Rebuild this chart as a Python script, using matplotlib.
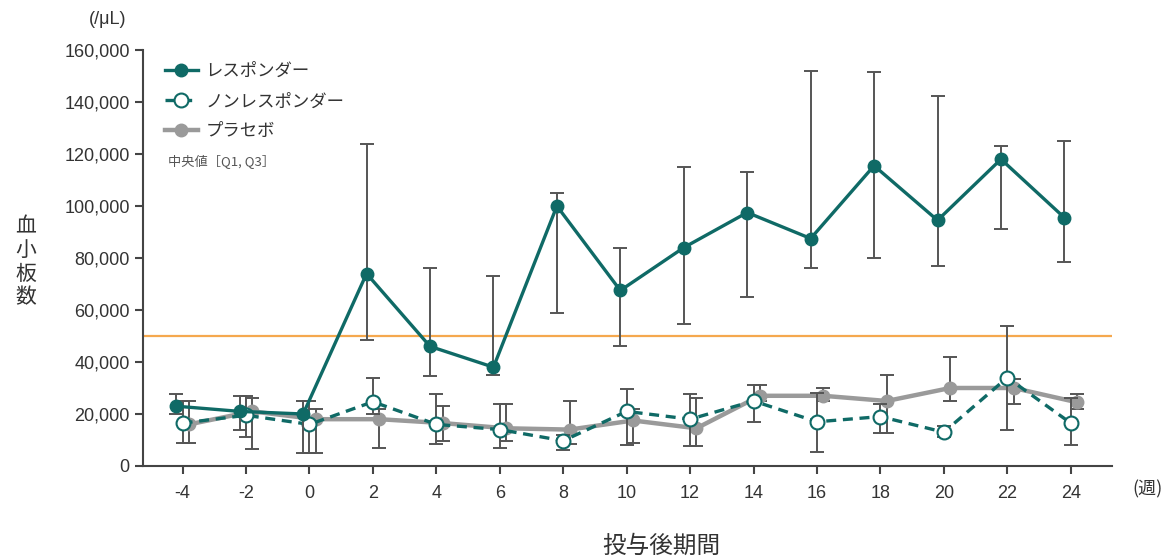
"""
血小板数の推移（レスポンダー / ノンレスポンダー / プラセボ）
中央値と [Q1, Q3] のエラーバー付き折れ線グラフ
"""

import matplotlib
matplotlib.use("Agg")
import matplotlib.pyplot as plt
import matplotlib.ticker as ticker
import numpy as np

plt.rcParams.update({
    "font.family": ["Liberation Sans", "Noto Sans CJK JP", "DejaVu Sans"],
    "axes.unicode_minus": False,
})
JP = ["Noto Sans CJK JP", "DejaVu Sans"]

# ── Data ─────────────────────────────────────────────────────────────────────
weeks = [-4, -2, 0, 2, 4, 6, 8, 10, 12, 14, 16, 18, 20, 22, 24]

resp_med = [23000, 21000, 20000, 74000, 46000, 38000, 100000, 67500,
            84000, 97500, 87500, 115500, 94500, 118000, 95500]
resp_q1 = [20000, 14000, 5000, 48500, 34500, 35000, 59000, 46000,
           54500, 65000, 76000, 80000, 77000, 91000, 78500]
resp_q3 = [27500, 27000, 25000, 124000, 76000, 73000, 105000, 84000,
           115000, 113000, 152000, 151500, 142500, 123000, 125000]

nonr_med = [16500, 19500, 16000, 24700, 16000, 14000, 9700, 21000,
            18000, 25000, 17000, 19000, 13000, 34000, 16500]
nonr_q1 = [9000, 11000, 5000, 20000, 8500, 7000, 6000, 8000,
           7500, 17000, 5500, 12500, 11000, 14000, 8000]
nonr_q3 = [25000, 27000, 25000, 34000, 27500, 24000, 12000, 29600,
           27700, 31000, 28000, 24000, 15500, 54000, 26000]

plac_med = [16000, 21000, 18000, 18000, 16500, 14500, 14000, 17500,
            14500, 27000, 27000, 25000, 30000, 30000, 24500]
plac_q1 = [9000, 6500, 5000, 7000, 9500, 9500, 8500, 9000,
           7500, 25000, 25000, 12500, 25000, 24000, 22000]
plac_q3 = [25000, 26000, 22000, 22000, 23000, 24000, 25000, 22000,
           26000, 31000, 30000, 35000, 42000, 33500, 27800]

THRESHOLD = 50000

# ── Style ────────────────────────────────────────────────────────────────────
TEAL = "#0f6a66"
GRAY = "#9a9a9a"
ERR = "#555555"
ORANGE = "#f5a84e"
OFFSET = 0.2        # horizontal dodge so groups don't overlap

fig = plt.figure(figsize=(11.65, 5.57), dpi=100)
ax = fig.add_axes([0.1227, 0.1634, 0.8318, 0.7468])

x = np.array(weeks, dtype=float)

ax.axhline(THRESHOLD, color=ORANGE, linewidth=1.6, zorder=1)


def draw(xs, med, q1, q3, z, **kw):
    med = np.array(med)
    yerr = [med - np.array(q1), np.array(q3) - med]
    ax.errorbar(xs, med, yerr=yerr, fmt="none", ecolor=ERR, elinewidth=1.4,
                capsize=5, capthick=1.4, zorder=z)
    return ax.plot(xs, med, zorder=z + 0.5, **kw)[0]


h_plac = draw(x + OFFSET, plac_med, plac_q1, plac_q3, 2,
              color=GRAY, linewidth=3.2, marker="o", markersize=9,
              markerfacecolor=GRAY, markeredgecolor=GRAY,
              label="プラセボ")
h_nonr = draw(x, nonr_med, nonr_q1, nonr_q3, 3,
              color=TEAL, linewidth=2.4, linestyle=(0, (3, 2)),
              marker="o", markersize=10, markerfacecolor="white",
              markeredgecolor=TEAL, markeredgewidth=1.5,
              label="ノンレスポンダー")
h_resp = draw(x - OFFSET, resp_med, resp_q1, resp_q3, 4,
              color=TEAL, linewidth=2.4, marker="o", markersize=9,
              markerfacecolor=TEAL, markeredgecolor=TEAL,
              label="レスポンダー")

# ── Axes ─────────────────────────────────────────────────────────────────────
ax.set_xlim(-5.25, 25.3)
ax.set_ylim(0, 160000)
ax.set_xticks(weeks)
ax.set_yticks(np.arange(0, 160001, 20000))
ax.yaxis.set_major_formatter(ticker.FuncFormatter(lambda v, _: f"{int(v):,}"))
ax.spines[["top", "right"]].set_visible(False)
for s in ("left", "bottom"):
    ax.spines[s].set_color("#444444")
    ax.spines[s].set_linewidth(1.5)
ax.tick_params(axis="both", colors="#444444", labelcolor="#333333",
               length=6, width=1.5, labelsize=13)
ax.tick_params(axis="x", pad=8)

fig.text(0.092, 0.965, "(/μL)", fontsize=13, color="#333333",
         ha="center", va="center")
fig.text(0.022, 0.53, "血\n小\n板\n数", family=JP, fontsize=15,
         color="#333333", ha="center", va="center", linespacing=1.1)
fig.text(0.985, 0.122, "(週)", family=JP, fontsize=13, color="#333333",
         ha="center", va="center")
fig.text(0.568, 0.02, "投与後期間", family=JP, fontsize=17,
         color="#333333", ha="center", va="center")

leg = ax.legend(handles=[h_resp, h_nonr, h_plac], loc="upper left",
                bbox_to_anchor=(0.01, 1.0), frameon=False,
                prop={"family": JP, "size": 12.5}, handlelength=1.9,
                handletextpad=0.45, labelspacing=0.7, borderaxespad=0.3)
for t in leg.get_texts():
    t.set_color("#333333")
ax.text(0.026, 0.731, "中央値［Q1, Q3］", transform=ax.transAxes,
        family=JP, fontsize=9.5, color="#555555", ha="left", va="center")

fig.savefig("out.png", dpi=100)
